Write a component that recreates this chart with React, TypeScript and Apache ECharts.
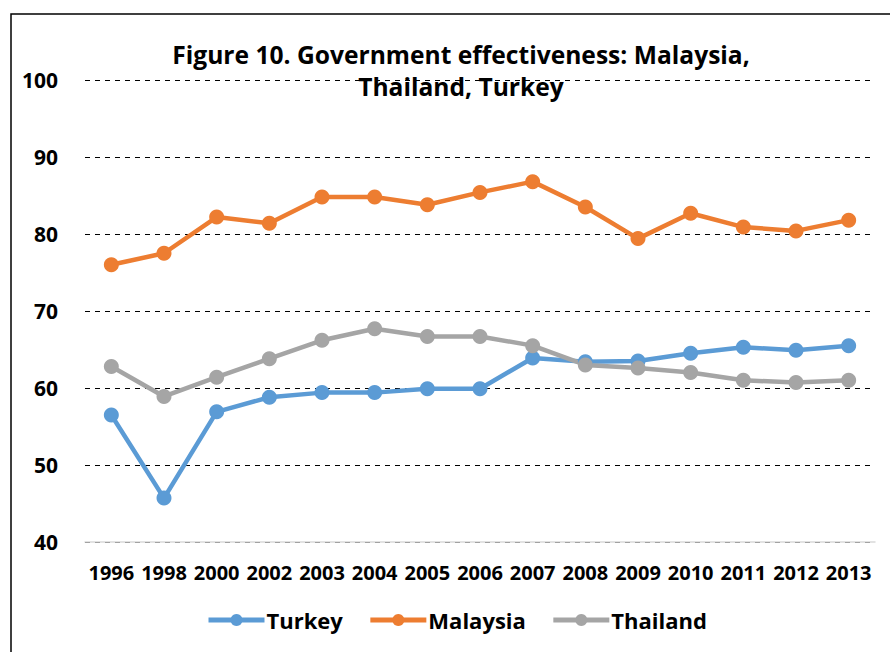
import React, { useEffect, useRef } from "react";
import * as echarts from "echarts";

const years = ["1996", "1998", "2000", "2002", "2003", "2004", "2005", "2006", "2007", "2008", "2009", "2010", "2011", "2012", "2013"];
const turkey = [56.5, 45.7, 56.9, 58.8, 59.4, 59.4, 59.9, 59.9, 63.9, 63.4, 63.5, 64.5, 65.3, 64.9, 65.5];
const malaysia = [76.0, 77.5, 82.2, 81.4, 84.8, 84.8, 83.8, 85.4, 86.8, 83.5, 79.4, 82.7, 80.9, 80.4, 81.8];
const thailand = [62.8, 58.9, 61.4, 63.8, 66.2, 67.7, 66.7, 66.7, 65.5, 63.0, 62.6, 62.0, 61.0, 60.7, 61.0];
const titleText = "Figure 10. Government effectiveness: Malaysia,\nThailand, Turkey";

const FONT = "'Open Sans', Lato, sans-serif";

export default function App() {
  const ref = useRef<HTMLDivElement>(null);
  useEffect(() => {
    if (!ref.current) return;
    const chart = echarts.init(ref.current, null, { renderer: "svg" });
    const mk = (name: string, data: number[], color: string) => ({
      name,
      type: "line",
      data,
      symbol: "circle",
      symbolSize: 15,
      itemStyle: { color },
      lineStyle: { color, width: 4.5 },
    });
    chart.setOption({
      animation: false,
      backgroundColor: "#ffffff",
      textStyle: { fontFamily: FONT },
      title: {
        text: titleText,
        left: 456,
        top: 33,
        textAlign: "center",
        textStyle: { fontFamily: FONT, fontSize: 24.6, fontWeight: "bold", color: "#000", lineHeight: 32 },
      },
      graphic: [
        {
          type: "rect",
          shape: { x: 11, y: 14, width: 1000, height: 1000 },
          style: { fill: "none", stroke: "#000", lineWidth: 1.5 },
          silent: true,
          z: -1,
        },
      ],
      legend: {
        left: 201,
        top: 604,
        itemWidth: 56,
        itemHeight: 15,
        itemGap: 25,
        lineStyle: { width: 5 },
        textStyle: { fontFamily: FONT, fontSize: 22, fontWeight: "bold", color: "#000", padding: [0, 0, 0, -3] },
        data: ["Turkey", "Malaysia", "Thailand"],
      },
      grid: { left: 85, right: 15, top: 80, bottom: 110, containLabel: false },
      xAxis: {
        type: "category",
        data: years,
        boundaryGap: true,
        axisLine: { show: true, lineStyle: { color: "#d9d9d9", width: 1.5 } },
        axisTick: { show: false },
        axisLabel: { fontFamily: FONT, fontSize: 20, fontWeight: "bold", color: "#000", margin: 20, interval: 0 },
      },
      yAxis: {
        type: "value",
        min: 40,
        max: 100,
        interval: 10,
        axisLine: { show: false },
        axisTick: { show: false },
        axisLabel: { fontFamily: FONT, fontSize: 21, fontWeight: "bold", color: "#000", margin: 27 },
        splitLine: { lineStyle: { color: "#000", type: [5, 5], width: 1 } },
      },
      series: [mk("Turkey", turkey, "#5B9BD5"), mk("Malaysia", malaysia, "#ED7D31"), mk("Thailand", thailand, "#A5A5A5")],
    });
    return () => chart.dispose();
  }, []);
  return <div ref={ref} style={{ position: "fixed", left: 0, top: 0, width: 890, height: 652 }} />;
}
